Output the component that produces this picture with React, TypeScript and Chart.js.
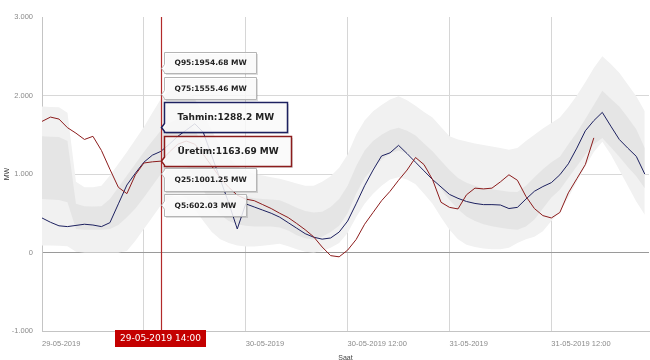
import React, { useEffect, useRef } from "react";
import { Chart, registerables } from "chart.js";

Chart.register(...registerables);

// ---- Data (hourly, starting 29-05-2019 00:00) ----
const dayLabels = ["29-05-2019", "30-05-2019", "31-05-2019"];
const xTickHours = [0, 12, 24, 36, 48, 60];
const yTickValues = [-1000, 0, 1000, 2000, 3000];

const tahmin = [
  440, 385, 340, 330, 345, 360, 350, 330, 380, 620, 860, 1010, 1150, 1240, 1288.2,
  1380, 1480, 1560, 1640, 1530, 1230, 930, 630, 300,
  620, 580, 540, 500, 450, 380, 310, 240, 195, 170, 185, 260,
  400, 620, 850, 1050, 1230, 1270, 1365, 1260, 1150, 1040, 930, 835,
  740, 690, 650, 625, 610, 610, 605, 560, 575, 680, 780, 840,
  890, 990, 1130, 1330, 1550, 1680, 1785, 1610, 1440, 1330, 1225, 1000,
];

const uretim = [
  1670, 1725, 1700, 1590, 1520, 1440, 1480, 1300, 1060, 830, 750, 990, 1140, 1155, 1163.69,
  1280, 1380, 1420, 1380, 1250, 1100, 950, 830, 730,
  680, 660, 610, 560, 500, 445, 370, 290, 200, 70, -40, -55,
  30, 165, 360, 510, 660, 780, 920, 1050, 1210, 1120, 930, 640,
  575, 555, 735, 820, 810, 820, 900, 990, 920, 715, 560, 470,
  440, 510, 760, 940, 1120, 1460,
];

const q95 = [
  1860, 1855, 1850, 1780, 900, 830, 830, 850, 980, 1130, 1280, 1440, 1600, 1780, 1954.68,
  2050, 2100, 2080, 1960, 1760, 1550, 1350, 1200, 1100,
  1040, 1000, 980, 960, 940, 910, 880, 850, 850, 900, 970, 1080,
  1250, 1500, 1680, 1800, 1880, 1950, 1990, 1940, 1870, 1790, 1720, 1600,
  1480, 1440, 1415, 1390, 1370, 1350, 1330, 1310, 1330, 1420, 1500, 1580,
  1650, 1720, 1850, 2000, 2170, 2350, 2500, 2400, 2290, 2140, 1990, 1800,
];

const q75 = [
  1480, 1475, 1470, 1420, 620, 590, 585, 590, 680, 830, 980, 1130, 1280, 1420, 1555.46,
  1650, 1700, 1680, 1560, 1360, 1150, 960, 830, 760,
  710, 690, 680, 675, 665, 620, 570, 530, 510, 520, 580, 680,
  850, 1100, 1300, 1420, 1500, 1560, 1590, 1550, 1490, 1390, 1290, 1170,
  1050, 950, 890, 850, 820, 805, 790, 775, 770, 850, 960, 1060,
  1150, 1220, 1380, 1530, 1700, 1880, 2060, 1960, 1860, 1720, 1570, 1330,
];

const q25 = [
  680, 675, 670, 640, 300, 290, 290, 290, 300, 350, 450, 560, 700, 850, 1001.25,
  1100, 1150, 1100, 960, 790, 620, 480, 400, 360,
  340, 330, 330, 330, 320, 280, 220, 180, 165, 200, 260, 340,
  500, 750, 950, 1080, 1180, 1260, 1300, 1260, 1200, 1090, 970, 810,
  670, 550, 460, 400, 360, 335, 315, 300, 290, 330, 420, 560,
  700, 800, 950, 1100, 1250, 1380, 1460, 1340, 1220, 1090, 970, 820,
];

const q5 = [
  90, 90, 85, 80, 10, 0, 0, 0, 0, 0, 20, 150, 300, 450, 602.03,
  700, 750, 700, 550, 400, 260, 170, 120, 90,
  75, 75, 85, 100, 110, 80, 40, 10, 0, 20, 60, 120,
  250, 450, 620, 750, 850, 930, 960, 930, 870, 750, 620, 450,
  290, 170, 100, 70, 50, 40, 40, 60, 120, 170, 200, 270,
  400, 520, 700, 900, 1100, 1280, 1410, 1250, 1050, 850, 650, 480,
];

const cursorHour = 14;
const cursorLabel = "29-05-2019 14:00";

// ---- helpers ----
const toPoints = (arr: number[]) => arr.map((v, i) => ({ x: i, y: v }));

const formatHour = (v: number) => {
  const d = Math.floor(v / 24);
  const h = v % 24;
  if (h === 0) return dayLabels[d] ?? "";
  return `${dayLabels[d] ?? ""} ${String(h).padStart(2, "0")}:00`;
};

const formatMW = (v: number) => {
  if (v === 0) return "0";
  return `${v < 0 ? "-" : ""}${Math.abs(v) / 1000}.000`;
};

const NAVY = "#1d2160";
const MAROON = "#8c1c1c";

type Row = {
  name: string;
  values: number[];
  top: number;
  height: number;
  width: number;
  border: string;
  borderWidth: number;
  font: string;
  textX: number;
};

const rows: Row[] = [
  { name: "Q95", values: q95, top: 52, height: 21, width: 92, border: "#b5b5b5", borderWidth: 1, font: "bold 7.5px 'DejaVu Sans'", textX: 10 },
  { name: "Q75", values: q75, top: 77, height: 22, width: 92, border: "#b5b5b5", borderWidth: 1, font: "bold 7.5px 'DejaVu Sans'", textX: 10 },
  { name: "Tahmin", values: tahmin, top: 102, height: 30, width: 123, border: NAVY, borderWidth: 1.5, font: "bold 9px 'DejaVu Sans'", textX: 13 },
  { name: "Üretim", values: uretim, top: 136, height: 30, width: 127, border: MAROON, borderWidth: 1.5, font: "bold 9px 'DejaVu Sans'", textX: 13 },
  { name: "Q25", values: q25, top: 168, height: 23, width: 92, border: "#b5b5b5", borderWidth: 1, font: "bold 7.5px 'DejaVu Sans'", textX: 10 },
  { name: "Q5", values: q5, top: 194, height: 22, width: 82, border: "#b5b5b5", borderWidth: 1, font: "bold 7.5px 'DejaVu Sans'", textX: 10 },
];

const overlayPlugin = {
  id: "overlay",
  afterDatasetsDraw(chart: any) {
    const { ctx, chartArea } = chart;
    const xs = chart.scales.x;
    const ys = chart.scales.y;
    const px = Math.round(xs.getPixelForValue(cursorHour)) + 0.5;
    ctx.save();
    ctx.strokeStyle = "#b22a2a";
    ctx.lineWidth = 1.2;
    ctx.beginPath();
    ctx.moveTo(px, chartArea.top);
    ctx.lineTo(px, chartArea.bottom);
    ctx.stroke();

    for (const r of rows) {
      const left = px + 3;
      const top = r.top + 0.5;
      const right = left + r.width;
      const bottom = top + r.height;
      const val = r.values[cursorHour];
      const ay = Math.min(Math.max(ys.getPixelForValue(val), top + 5), bottom - 5);
      const path = (dx: number, dy: number) => {
        ctx.beginPath();
        ctx.moveTo(left + dx, top + dy);
        ctx.lineTo(right + dx, top + dy);
        ctx.lineTo(right + dx, bottom + dy);
        ctx.lineTo(left + dx, bottom + dy);
        ctx.lineTo(left + dx, ay + 4 + dy);
        ctx.lineTo(left - 3 + dx, ay + dy);
        ctx.lineTo(left + dx, ay - 4 + dy);
        ctx.closePath();
      };
      // shadow
      path(1.5, 1.5);
      ctx.fillStyle = "rgba(0,0,0,0.13)";
      ctx.fill();
      path(0, 0);
      ctx.fillStyle = "rgba(255,255,255,0.84)";
      ctx.fill();
      ctx.strokeStyle = r.border;
      ctx.lineWidth = r.borderWidth;
      ctx.stroke();
      ctx.fillStyle = "#222";
      ctx.font = r.font;
      ctx.textAlign = "left";
      ctx.textBaseline = "middle";
      ctx.fillText(`${r.name}:${val} MW`, left + r.textX, (top + bottom) / 2 + 0.5);
    }
    ctx.restore();
  },
  afterDraw(chart: any) {
    const { ctx, chartArea } = chart;
    const px = chart.scales.x.getPixelForValue(cursorHour);
    ctx.save();
    const w = 91;
    const h = 17;
    const x0 = Math.round(px - 46);
    const y0 = Math.round(chartArea.bottom - 1);
    ctx.fillStyle = "#c40000";
    ctx.fillRect(x0, y0, w, h);
    ctx.fillStyle = "#ffffff";
    ctx.font = "9px 'DejaVu Sans'";
    ctx.textAlign = "center";
    ctx.textBaseline = "middle";
    ctx.fillText(cursorLabel, x0 + w / 2, y0 + h / 2 + 0.5);
    ctx.restore();
  },
};

export default function App() {
  const ref = useRef<HTMLCanvasElement>(null);

  useEffect(() => {
    const canvas = ref.current;
    if (!canvas) return;
    const tickFont = { family: "'Liberation Sans', Arial, sans-serif", size: 7.5 };
    const chart = new Chart(canvas, {
      type: "line",
      data: {
        datasets: [
          { label: "Üretim", data: toPoints(uretim), borderColor: MAROON, borderWidth: 1, pointRadius: 0, fill: false },
          { label: "Tahmin", data: toPoints(tahmin), borderColor: NAVY, borderWidth: 1, pointRadius: 0, fill: false },
          { label: "Q75", data: toPoints(q75), borderColor: "rgba(0,0,0,0)", borderWidth: 0, pointRadius: 0, fill: "+1", backgroundColor: "#e5e5e5" },
          { label: "Q25", data: toPoints(q25), borderColor: "rgba(0,0,0,0)", borderWidth: 0, pointRadius: 0, fill: false },
          { label: "Q95", data: toPoints(q95), borderColor: "rgba(0,0,0,0)", borderWidth: 0, pointRadius: 0, fill: "+1", backgroundColor: "#f1f1f1" },
          { label: "Q5", data: toPoints(q5), borderColor: "rgba(0,0,0,0)", borderWidth: 0, pointRadius: 0, fill: false },
        ],
      },
      options: {
        animation: false,
        responsive: false,
        devicePixelRatio: 1,
        layout: { padding: { top: 17, right: 1, left: 0, bottom: 0 } },
        elements: { line: { tension: 0 }, point: { radius: 0 } },
        plugins: {
          legend: { display: false },
          tooltip: { enabled: false },
        },
        scales: {
          x: {
            type: "linear",
            min: 0,
            max: 71.5,
            afterBuildTicks: (s: any) => {
              s.ticks = xTickHours.map((v) => ({ value: v }));
            },
            afterFit: (s: any) => {
              s.height = 35;
            },
            ticks: {
              align: "start",
              padding: 8,
              color: "#8a8a8a",
              font: tickFont,
              maxRotation: 0,
              autoSkip: false,
              callback: (v: any) => formatHour(Number(v)),
            },
            grid: { color: "#d6d6d6", drawTicks: false },
            border: { color: "#c4c4c4" },
            title: {
              display: true,
              text: "Saat",
              color: "#444",
              font: { family: "'Liberation Sans', Arial, sans-serif", size: 7 },
              padding: { top: 0, bottom: 4 },
            },
          },
          y: {
            min: -1000,
            max: 3000,
            afterBuildTicks: (s: any) => {
              s.ticks = yTickValues.map((v) => ({ value: v }));
            },
            afterFit: (s: any) => {
              s.width = 42;
            },
            ticks: {
              padding: 9,
              color: "#8a8a8a",
              font: tickFont,
              callback: (v: any) => formatMW(Number(v)),
            },
            grid: {
              drawTicks: false,
              color: (c: any) =>
                c.tick && c.tick.value === 0
                  ? "#9a9a9a"
                  : c.tick && c.tick.value === 3000
                  ? "rgba(0,0,0,0)"
                  : "#d8d8d8",
            },
            border: { color: "#c4c4c4" },
            title: {
              display: true,
              text: "MW",
              color: "#333",
              font: { family: "'Liberation Sans', Arial, sans-serif", size: 7 },
              padding: { top: 3, bottom: 0 },
            },
          },
        },
      },
      plugins: [overlayPlugin],
    } as any);
    return () => chart.destroy();
  }, []);

  return (
    <div style={{ position: "absolute", left: 0, top: 0, width: 650, height: 360, overflow: "hidden", background: "#fff" }}>
      <canvas ref={ref} width={650} height={366} style={{ display: "block" }} />
    </div>
  );
}
